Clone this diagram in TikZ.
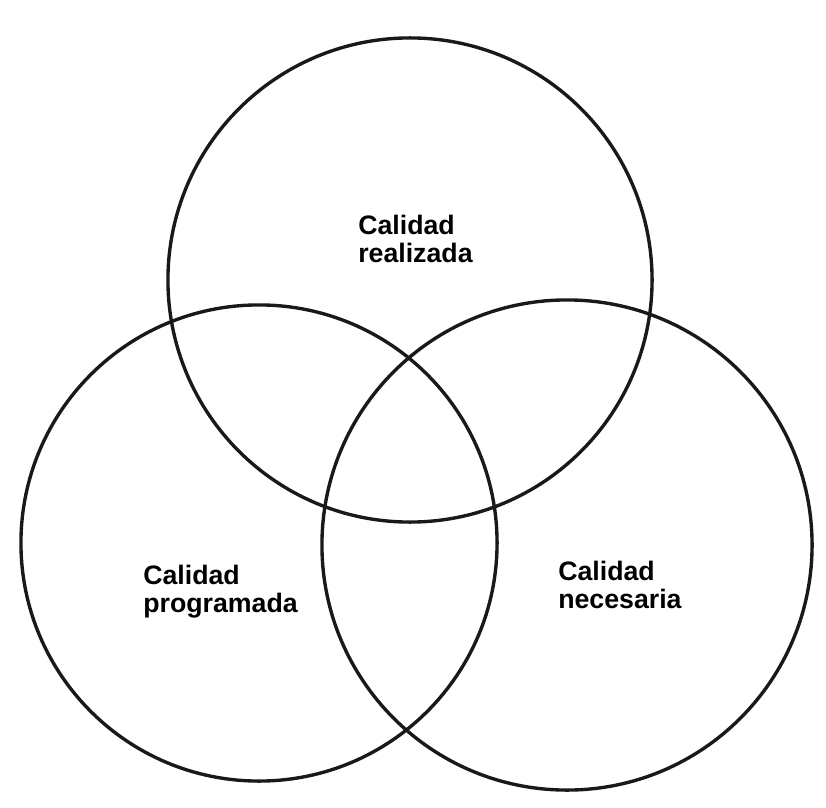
\documentclass[tikz,border=0pt]{standalone}
\usepackage{fontspec}
\newfontfamily\labelfont{Liberation Sans}
\usetikzlibrary{positioning}

\begin{document}
\begin{tikzpicture}[
  x=0.025cm, y=-0.025cm,
  ring/.style={
    circle, draw=black!90, line width=2.4pt,
    inner sep=0pt
  },
  lbl/.style={
    anchor=north west, align=left, inner sep=0pt,
    font=\labelfont\bfseries\fontsize{19}{19.6}\selectfont
  },
]
  \useasboundingbox (0,0) rectangle (826,807);

  % -------------------------------------------------------
  %  Circles
  % -------------------------------------------------------
  \node[ring, minimum size=12.10cm] (real) at (410,280) {};
  \node[ring, minimum size=11.90cm] (prog) at (259,543) {};
  \node[ring, minimum size=12.25cm] (nece) at (567,545) {};

  % -------------------------------------------------------
  %  Labels
  % -------------------------------------------------------
  \node[lbl] (lreal) at (358,215) {Calidad\\realizada};
  \node[lbl] (lprog) at (143,565) {Calidad\\programada};
  \node[lbl] (lnece) at (558,561) {Calidad\\necesaria};

\end{tikzpicture}
\end{document}
